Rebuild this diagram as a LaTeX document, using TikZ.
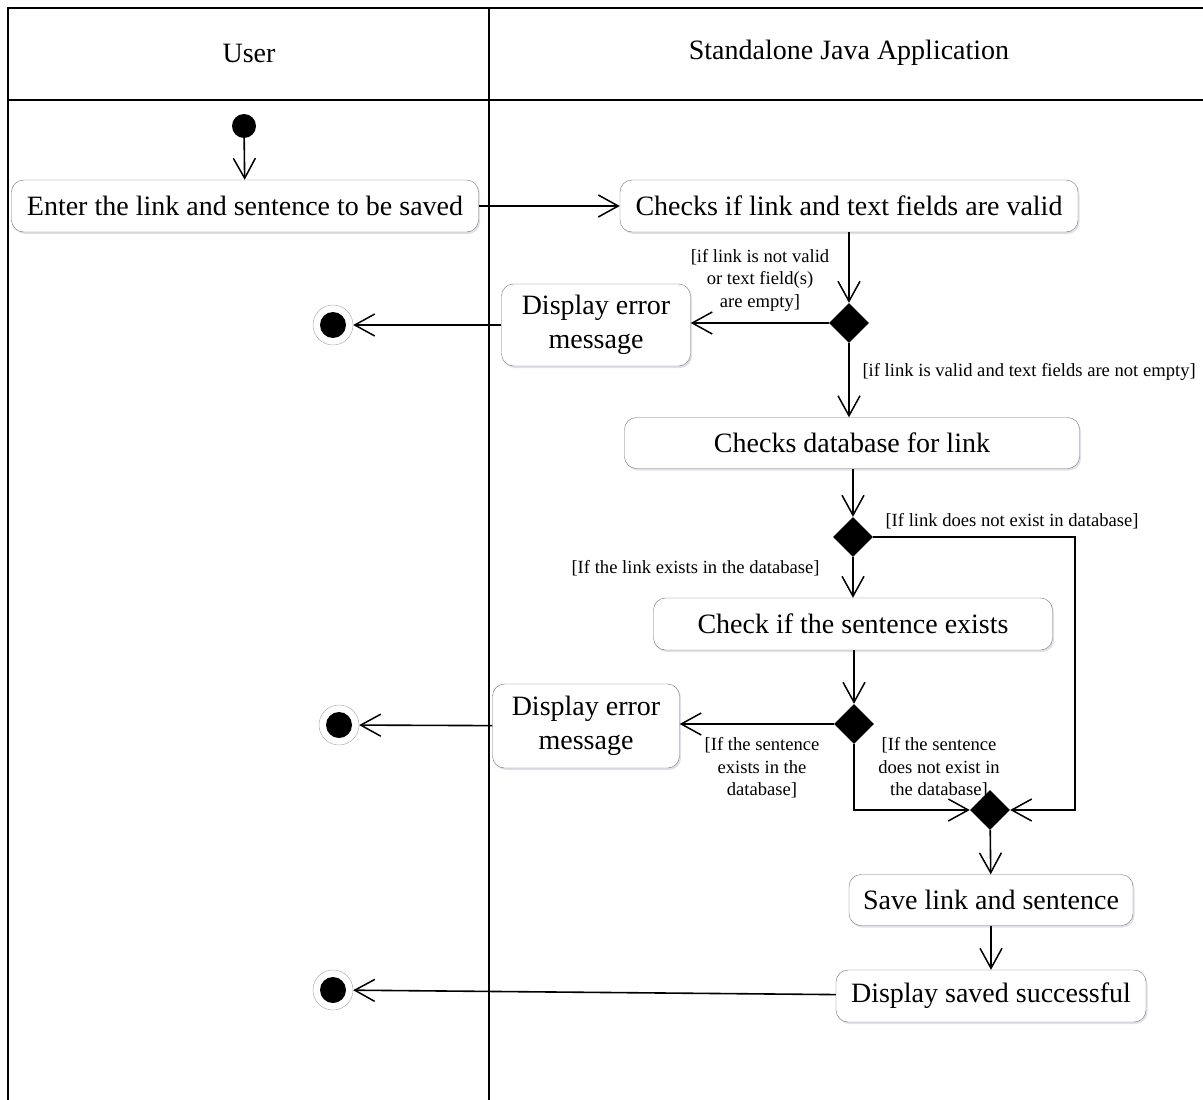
\documentclass[tikz,border=0pt]{standalone}
\usepackage{fontspec}
\setmainfont{Liberation Serif}
\usetikzlibrary{positioning, shapes.geometric, arrows.meta, shadows}

\begin{document}
\begin{tikzpicture}[
    x=1pt, y=-1pt,
    act/.style={draw=black!55, rounded corners=12pt, fill=white, align=center,
                inner sep=0pt, font=\fontsize{28}{34}\selectfont,
                drop shadow={shadow xshift=1.5pt, shadow yshift=-2pt, fill=blue!30!black!20, opacity=0.6}},
    decision/.style={diamond, fill=black, inner sep=0pt, minimum width=40pt, minimum height=40pt},
    start/.style={circle, fill=black, inner sep=0pt, minimum size=24pt},
    stop/.style={circle, draw=black!35, fill=white, inner sep=0pt, minimum size=40pt,
                 path picture={\fill[black] (path picture bounding box.center) circle (13pt);}},
    guard/.style={font=\fontsize{18.6}{22.5}\selectfont, align=center},
    flow/.style={-{Straight Barb[length=20pt,width=22pt,line width=1.5pt]}, line width=1.6pt},
    lane/.style={line width=1.8pt}
]
    \useasboundingbox (0,0) rectangle (1203,1100);

    % Swimlanes
    \draw[lane] (8,1100) -- (8,8) -- (1203,8);
    \draw[lane] (8,100) -- (1203,100);
    \draw[lane] (489,8) -- (489,1100);
    \node[font=\fontsize{28}{32}\selectfont] (userlane) at (249,53) {User};
    \node[font=\fontsize{28}{32}\selectfont] (applane) at (849,53) {Standalone Java Application};

    % User lane
    \node[start] (init) at (244,126) {};
    \node[act, minimum width=467pt, minimum height=52pt] (enter) at (245,206) {Enter the link and sentence to be saved};
    \node[stop] (end1) at (333,325) {};
    \node[stop] (end2) at (339,725) {};
    \node[stop] (end3) at (333,990) {};

    % Application lane
    \node[act, minimum width=458pt, minimum height=52pt] (valid) at (849,206) {Checks if link and text fields are valid};
    \node[decision] (d1) at (849,323) {};
    \node[act, minimum width=189pt, minimum height=82pt] (err1) at (596,325) {Display error\\message};
    \node[act, minimum width=455pt, minimum height=51pt] (db) at (852,443) {Checks database for link};
    \node[decision] (d2) at (853,537) {};
    \node[act, minimum width=399pt, minimum height=52pt] (sent) at (853,624) {Check if the sentence exists};
    \node[decision] (d3) at (854,724) {};
    \node[act, minimum width=187pt, minimum height=84pt] (err2) at (586,726) {Display error\\message};
    \node[decision] (merge) at (990,810) {};
    \node[act, minimum width=284pt, minimum height=51pt] (save) at (991,900) {Save link and sentence};
    \node[act, minimum width=310pt, minimum height=52pt] (done) at (991,996) {Display saved successful};
    \coordinate (bend) at (1075,537);

    % Guards
    \node[guard] (g1) at (760,280) {[if link is not valid\\or text field(s)\\are empty]};
    \node[guard, anchor=west] (g2) at (859,372) {[if link is valid and text fields are not empty]};
    \node[guard, anchor=west] (g3) at (882,521) {[If link does not exist in database]};
    \node[guard, anchor=east] (g4) at (823,568) {[If the link exists in the database]};
    \node[guard] (g5) at (762,768) {[If the sentence\\exists in the\\database]};
    \node[guard] (g6) at (939,768) {[If the sentence\\does not exist in\\the database]};

    % Flows
    \draw[flow] (init) -- (enter);
    \draw[flow] (enter) -- (valid);
    \draw[flow] (valid.south -| d1) -- (d1);
    \draw[flow] (d1) -- (err1.east |- d1);
    \draw[flow] (err1) -- (end1);
    \draw[flow] (d1.south) -- (d1.south |- db.north);
    \draw[flow] (db.south -| d2) -- (d2);
    \draw[flow] (d2.east) -- (bend) |- (merge.east);
    \draw[flow] (d2) -- (sent);
    \draw[flow] (sent.south -| d3) -- (d3);
    \draw[flow] (d3) -- (err2.east |- d3);
    \draw[flow] (err2) -- (end2);
    \draw[flow] (d3.south) |- (merge.west);
    \draw[flow] (merge) -- (save);
    \draw[flow] (save) -- (done);
    \draw[flow] (done) -- (end3);
\end{tikzpicture}
\end{document}
